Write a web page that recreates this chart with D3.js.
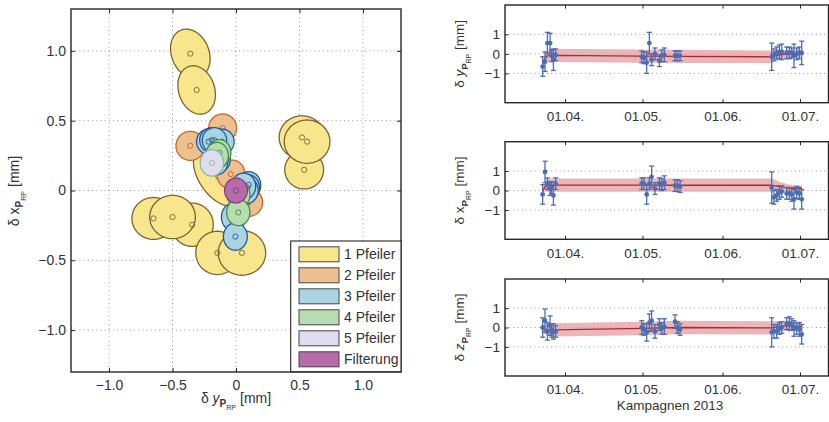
<!DOCTYPE html>
<html>
<head>
<meta charset="utf-8">
<script src="https://cdn.jsdelivr.net/npm/d3@7"></script>
<style>
body { margin: 0; background: #fff; }
svg text { font-family: "Liberation Sans", Arial, sans-serif; fill: #333; }
</style>
</head>
<body>
<svg id="chart" width="829" height="422"></svg>
<script>

// ---------------- data ----------------

var legendLabels = ["1 Pfeiler", "2 Pfeiler", "3 Pfeiler", "4 Pfeiler", "5 Pfeiler", "Filterung"];

// error ellipses: [dy, dx, semi axis a, semi axis b, angle of a (deg)]  -- all in mm
var pfeiler1 = [
    [0.537, 0.148, 0.153, 0.137, 0],
    [0.52, 0.38, 0.18, 0.155, 0],
    [0.56, 0.35, 0.18, 0.155, 0],
    [-0.36, 0.98, 0.185, 0.145, 120],
    [-0.31, 0.72, 0.18, 0.14, 115],
    [-0.14, 0.10, 0.25, 0.145, 130],
    [-0.345, -0.245, 0.166, 0.155, 0],
    [-0.65, -0.2, 0.17, 0.15, 0],
    [-0.5, -0.19, 0.18, 0.155, 0],
    [-0.147, -0.447, 0.17, 0.155, 0],
    [0.047, -0.447, 0.187, 0.16, 0]
];
var pfeiler2 = [
    [-0.36, 0.32, 0.113, 0.104, 0],
    [-0.105, 0.448, 0.11, 0.1, 0],
    [-0.04, 0.117, 0.11, 0.1, 20],
    [0.1, -0.085, 0.11, 0.1, 0]
];
var pfeiler3 = [
    [-0.11, 0.35, 0.095, 0.09, 0],
    [-0.215, 0.35, 0.096, 0.09, 0],
    [-0.19, 0.36, 0.096, 0.09, 0],
    [-0.17, 0.36, 0.096, 0.09, 0],
    [-0.14, 0.22, 0.095, 0.09, 0],
    [-0.16, 0.2, 0.095, 0.09, 0],
    [0.1, 0.04, 0.095, 0.095, 0],
    [0.09, 0.02, 0.095, 0.095, 0],
    [0.08, 0.0, 0.095, 0.095, 0],
    [0.06, 0.03, 0.095, 0.095, 0],
    [-0.02, -0.19, 0.095, 0.1, 0],
    [-0.005, -0.33, 0.094, 0.098, 0]
];
var pfeiler4 = [
    [-0.13, 0.27, 0.09, 0.095, 0],
    [-0.15, 0.25, 0.09, 0.095, 0],
    [0.02, -0.03, 0.09, 0.095, 0],
    [0.018, -0.157, 0.092, 0.095, 0]
];
var pfeiler5 = [
    [-0.19, 0.198, 0.092, 0.095, 0]
];
var filterung = [
    [0, 0, 0.09, 0.089, 0]
];

var tickValuesL = [-1, -0.5, 0, 0.5, 1];
var tickLabelsL = ["\u22121.0", "\u22120.5", "0", "0.5", "1.0"];

// campaigns 2013
var epochs = [
    "2013-03-23T08", "2013-03-24T06", "2013-03-25T04", "2013-03-26T05", "2013-03-26T20", "2013-03-27T12", "2013-03-28T09",
    "2013-04-30T17", "2013-05-01T14", "2013-05-02T15", "2013-05-03T16", "2013-05-04T13", "2013-05-05T20",
    "2013-05-07T13", "2013-05-08T10", "2013-05-09T11", "2013-05-13T14", "2013-05-14T12", "2013-05-15T13",
    "2013-06-20T01", "2013-06-20T22", "2013-06-21T23", "2013-06-23T00", "2013-06-23T22", "2013-06-25T20",
    "2013-06-26T21", "2013-06-27T19", "2013-06-28T16", "2013-06-29T17", "2013-06-30T18", "2013-07-01T16"
];
var dyVals = [-0.65, -0.4, 0.55, 0.55, -0.1, -0.3, -0.05,
    -0.15, -0.2, -0.45, 0.55, -0.3, 0.0, -0.35, -0.1, -0.05, -0.1, -0.1, -0.1,
    -0.15, -0.05, 0.05, 0.1, 0.1, 0.05, 0.05, 0.05, -0.1, 0.0, 0.05, 0.05];
var dyErr = [0.5, 0.5, 0.55, 0.5, 0.3, 0.55, 0.3,
    0.3, 0.3, 0.55, 0.55, 0.3, 0.3, 0.3, 0.3, 0.35, 0.25, 0.25, 0.25,
    0.7, 0.3, 0.3, 0.35, 0.4, 0.3, 0.3, 0.25, 0.6, 0.3, 0.3, 0.6];
var dxVals = [-0.2, 0.95, 0.35, 0.1, 0.15, -0.25, 0.35,
    0.35, 0.35, -0.2, 0.35, 0.7, 0.1, 0.35, 0.3, 0.4, 0.25, 0.25, 0.2,
    0.15, -0.35, -0.25, -0.1, -0.05, -0.15, -0.15, -0.2, -0.45, -0.1, -0.15, -0.45];
var dxErr = [0.5, 0.55, 0.3, 0.35, 0.3, 0.5, 0.3,
    0.3, 0.3, 0.5, 0.3, 0.55, 0.3, 0.3, 0.3, 0.35, 0.3, 0.3, 0.3,
    0.8, 0.35, 0.3, 0.35, 0.3, 0.3, 0.3, 0.35, 0.5, 0.3, 0.3, 0.5];
var dzVals = [0.0, 0.35, -0.2, 0.1, -0.15, -0.2, -0.2,
    0.0, -0.1, -0.25, 0.25, 0.35, -0.2, 0.15, -0.05, 0.05, 0.3, 0.0, -0.1,
    -0.25, -0.2, -0.2, -0.05, 0.0, 0.2, 0.2, 0.15, -0.05, -0.05, -0.1, -0.35];
var dzErr = [0.5, 0.6, 0.45, 0.5, 0.35, 0.4, 0.3,
    0.35, 0.3, 0.45, 0.45, 0.5, 0.35, 0.3, 0.3, 0.4, 0.35, 0.3, 0.3,
    0.75, 0.35, 0.35, 0.3, 0.3, 0.3, 0.35, 0.3, 0.4, 0.3, 0.35, 0.5];

// filter solution and its 1-sigma band
var filterEpochs = ["2013-03-23T08", "2013-03-24T06", "2013-03-25T04", "2013-03-27T12", "2013-04-30T17",
    "2013-05-15T13", "2013-06-20T01", "2013-06-23T00", "2013-06-26T21", "2013-07-01T16"];
var filterDy = [-0.5, -0.25, -0.1, -0.08, -0.12, -0.13, -0.15, -0.05, 0.0, 0.02];
var filterDySig = [0.08, 0.2, 0.3, 0.34, 0.34, 0.34, 0.32, 0.25, 0.21, 0.2];
var filterDx = [-0.05, 0.2, 0.27, 0.28, 0.28, 0.27, 0.27, 0.2, 0.12, 0.1];
var filterDxSig = [0.08, 0.25, 0.33, 0.34, 0.34, 0.34, 0.34, 0.25, 0.18, 0.17];
var filterDz = [-0.1, -0.1, -0.11, -0.12, -0.05, 0.0, -0.02, 0.05, 0.1, 0.05];
var filterDzSig = [0.1, 0.25, 0.32, 0.34, 0.35, 0.35, 0.34, 0.28, 0.25, 0.25];

var dateTicks = ["2013-04-01T00", "2013-05-01T00", "2013-06-01T00", "2013-07-01T00"];
var yTicksR = [-1, 0, 1];
var yTickLabelsR = ["\u22121", "0", "1"];

// ---------------- styles ----------------

var fillColors = ["#f8e68c", "#ecc08f", "#a9d5e3", "#b7dcb0", "#dedcee", "#b66ca9"];
var strokeColors = ["#786434", "#c2662f", "#22589a", "#3f8b4c", "#8bb99b", "#8a3b7f"];
var gridColor = "#777";
var boxColor = "#262626";
var blue = "#4b6db3";

var svg = d3.select("#chart");
var parseT = d3.utcParse("%Y-%m-%dT%H");

function styleAxis(size) {
    return function(g) {
        g.select(".domain").remove();
        g.selectAll(".tick line").attr("stroke", boxColor);
        g.selectAll(".tick text").attr("font-size", size).attr("fill", "#333")
            .attr("font-family", "Liberation Sans, Arial, sans-serif");
    };
}

function axisLabel(parent, x, y, letter, italic, rotated, size) {
    var t = parent.append("text")
        .attr("text-anchor", "middle")
        .attr("font-size", size)
        .attr("transform", "translate(" + x + "," + y + ")" + (rotated ? " rotate(-90)" : ""));
    t.append("tspan").text("\u03b4 ");
    t.append("tspan").attr("font-style", italic ? "italic" : "normal").text(letter);
    t.append("tspan").attr("font-weight", "bold").attr("font-size", size * 0.72).attr("dy", 4).text("P");
    t.append("tspan").attr("font-size", size * 0.5).attr("dy", 3).text("RP");
    t.append("tspan").attr("dy", -7).attr("dx", 4).text("[mm]");
}

// ---------------- left: error ellipses ----------------

var L = { left: 71, right: 401, top: 9, bottom: 372 };
var xL = d3.scaleLinear().domain([-1.3, 1.3]).range([L.left, L.right]);
var yL = d3.scaleLinear().domain([-1.3, 1.3]).range([L.bottom, L.top]);
var gL = svg.append("g");

gL.selectAll(".vgrid").data(tickValuesL).enter().append("line")
    .attr("x1", function(d) { return xL(d); }).attr("x2", function(d) { return xL(d); })
    .attr("y1", L.top).attr("y2", L.bottom)
    .attr("stroke", gridColor).attr("stroke-width", 0.8).attr("stroke-dasharray", "1,3.2");
gL.selectAll(".hgrid").data(tickValuesL).enter().append("line")
    .attr("y1", function(d) { return yL(d); }).attr("y2", function(d) { return yL(d); })
    .attr("x1", L.left).attr("x2", L.right)
    .attr("stroke", gridColor).attr("stroke-width", 0.8).attr("stroke-dasharray", "1,3.2");

var ellipseLine = d3.line().curve(d3.curveLinearClosed);
function ellipsePath(e) {
    var phi = e[4] * Math.PI / 180, pts = [];
    for (var k = 0; k < 72; k++) {
        var t = k / 72 * 2 * Math.PI;
        var u = e[2] * Math.cos(t), v = e[3] * Math.sin(t);
        pts.push([xL(e[0] + u * Math.cos(phi) - v * Math.sin(phi)),
                  yL(e[1] + u * Math.sin(phi) + v * Math.cos(phi))]);
    }
    return ellipseLine(pts);
}

var groups = [pfeiler1, pfeiler2, pfeiler3, pfeiler4, pfeiler5, filterung];
groups.forEach(function(grp, i) {
    var g = gL.append("g");
    g.selectAll("path").data(grp).enter().append("path")
        .attr("d", ellipsePath)
        .attr("fill", fillColors[i])
        .attr("stroke", strokeColors[i]).attr("stroke-width", 1.3);
    g.selectAll("circle").data(grp).enter().append("circle")
        .attr("cx", function(d) { return xL(d[0]); })
        .attr("cy", function(d) { return yL(d[1]); })
        .attr("r", 2.6)
        .attr("fill", "none")
        .attr("stroke", strokeColors[i]).attr("stroke-width", 0.9);
});

gL.append("g").attr("transform", "translate(0," + L.bottom + ")")
    .call(d3.axisBottom(xL).tickValues(tickValuesL).tickSize(-4).tickPadding(8.5)
        .tickFormat(function(d, i) { return tickLabelsL[i]; }))
    .call(styleAxis(14));
gL.append("g").attr("transform", "translate(0," + L.top + ")")
    .call(d3.axisTop(xL).tickValues(tickValuesL).tickSize(-4).tickFormat(""))
    .call(styleAxis(14));
gL.append("g").attr("transform", "translate(" + L.left + ",0)")
    .call(d3.axisLeft(yL).tickValues(tickValuesL).tickSize(-4).tickPadding(5)
        .tickFormat(function(d, i) { return tickLabelsL[i]; }))
    .call(styleAxis(14));
gL.append("g").attr("transform", "translate(" + L.right + ",0)")
    .call(d3.axisRight(yL).tickValues(tickValuesL).tickSize(-4).tickFormat(""))
    .call(styleAxis(14));

gL.append("rect")
    .attr("x", L.left).attr("y", L.top)
    .attr("width", L.right - L.left).attr("height", L.bottom - L.top)
    .attr("fill", "none").attr("stroke", boxColor).attr("stroke-width", 1.4);

axisLabel(gL, 236, 403, "y", true, false, 14);
axisLabel(gL, 18.5, 191, "x", false, true, 14);

// legend
var leg = gL.append("g");
leg.append("rect").attr("x", 290.7).attr("y", 241).attr("width", 401 - 290.7).attr("height", 130.7)
    .attr("fill", "#fff").attr("stroke", boxColor).attr("stroke-width", 1.1);
var legItems = leg.selectAll(".item").data(legendLabels).enter().append("g")
    .attr("transform", function(d, i) { return "translate(299," + (254.3 + 21 * i) + ")"; });
legItems.append("rect").attr("x", 0).attr("y", -7.5).attr("width", 40).attr("height", 15)
    .attr("fill", function(d, i) { return fillColors[i]; })
    .attr("stroke", "#444").attr("stroke-width", 1);
legItems.append("text").attr("x", 45).attr("y", 5).attr("font-size", 14)
    .text(function(d) { return d; });

// ---------------- right: time series ----------------

var xR = d3.scaleUtc()
    .domain([parseT("2013-03-08T18"), parseT("2013-07-12T01")])
    .range([505, 828.5]);

var panels = [
    { top: 5, bottom: 102.7, vals: dyVals, err: dyErr, f: filterDy, s: filterDySig, letter: "y", italic: true },
    { top: 141.7, bottom: 239.3, vals: dxVals, err: dxErr, f: filterDx, s: filterDxSig, letter: "x", italic: false },
    { top: 279, bottom: 376, vals: dzVals, err: dzErr, f: filterDz, s: filterDzSig, letter: "z", italic: true }
];

var epochDates = epochs.map(parseT);
var filterDates = filterEpochs.map(parseT);
var tickDates = dateTicks.map(parseT);

panels.forEach(function(p) {
    var g = svg.append("g");
    var y = d3.scaleLinear().domain([-2.5, 2.5]).range([p.bottom, p.top]);
    var x0 = xR.range()[0], x1 = xR.range()[1];

    g.selectAll(".hgrid").data(yTicksR).enter().append("line")
        .attr("x1", x0).attr("x2", x1)
        .attr("y1", function(d) { return y(d); }).attr("y2", function(d) { return y(d); })
        .attr("stroke", gridColor).attr("stroke-width", 0.8).attr("stroke-dasharray", "1,3.2");

    var fdata = filterDates.map(function(d, i) { return { t: d, v: p.f[i], s: p.s[i] }; });
    g.append("path").datum(fdata)
        .attr("d", d3.area()
            .x(function(d) { return xR(d.t); })
            .y0(function(d) { return y(d.v - d.s); })
            .y1(function(d) { return y(d.v + d.s); }))
        .attr("fill", "#e29fa3").attr("fill-opacity", 0.75);
    g.append("path").datum(fdata)
        .attr("d", d3.line().x(function(d) { return xR(d.t); }).y(function(d) { return y(d.v); }))
        .attr("fill", "none").attr("stroke", "#b5262b").attr("stroke-width", 1.3);

    var pts = epochDates.map(function(d, i) { return { t: d, v: p.vals[i], e: p.err[i] }; });
    var eb = g.selectAll(".eb").data(pts).enter().append("g").attr("class", "eb");
    eb.append("line")
        .attr("x1", function(d) { return xR(d.t); }).attr("x2", function(d) { return xR(d.t); })
        .attr("y1", function(d) { return y(d.v - d.e); }).attr("y2", function(d) { return y(d.v + d.e); })
        .attr("stroke", blue).attr("stroke-width", 1.3);
    [-1, 1].forEach(function(sgn) {
        eb.append("line")
            .attr("x1", function(d) { return xR(d.t) - 2.5; }).attr("x2", function(d) { return xR(d.t) + 2.5; })
            .attr("y1", function(d) { return y(d.v + sgn * d.e); }).attr("y2", function(d) { return y(d.v + sgn * d.e); })
            .attr("stroke", blue).attr("stroke-width", 1.3);
    });
    eb.append("circle")
        .attr("cx", function(d) { return xR(d.t); }).attr("cy", function(d) { return y(d.v); })
        .attr("r", 2.4).attr("fill", blue);

    g.append("g").attr("transform", "translate(0," + p.bottom + ")")
        .call(d3.axisBottom(xR).tickValues(tickDates).tickSize(-3.5).tickPadding(8.8)
            .tickFormat(d3.utcFormat("%d.%m.")))
        .call(styleAxis(13.5));
    g.append("g").attr("transform", "translate(0," + p.top + ")")
        .call(d3.axisTop(xR).tickValues(tickDates).tickSize(-3.5).tickFormat(""))
        .call(styleAxis(13.5));
    g.append("g").attr("transform", "translate(" + x0 + ",0)")
        .call(d3.axisLeft(y).tickValues(yTicksR).tickSize(-3.5).tickPadding(5)
            .tickFormat(function(d, i) { return yTickLabelsR[i]; }))
        .call(styleAxis(13.5));

    g.append("rect")
        .attr("x", x0).attr("y", p.top)
        .attr("width", x1 - x0).attr("height", p.bottom - p.top)
        .attr("fill", "none").attr("stroke", boxColor).attr("stroke-width", 1.4);

    axisLabel(g, 464, (p.top + p.bottom) / 2, p.letter, p.italic, true, 13.5);
});

svg.append("text").attr("x", 670).attr("y", 410).attr("text-anchor", "middle")
    .attr("font-size", 13.5).text("Kampagnen 2013");

</script>
</body>
</html>
